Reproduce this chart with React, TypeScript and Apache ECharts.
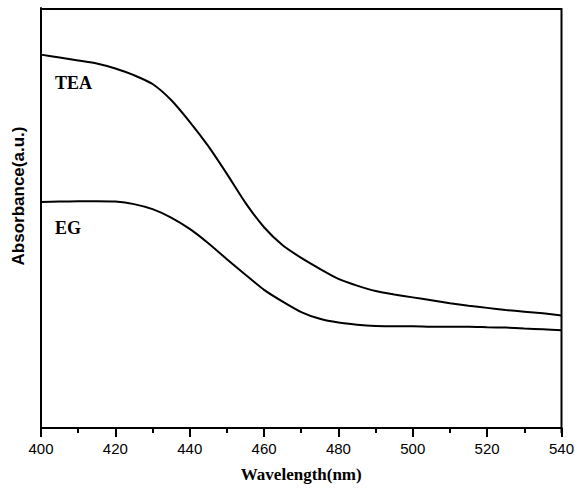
import React, { useEffect, useRef } from "react";
import * as echarts from "echarts";

const wavelengths = [400, 405, 410, 415, 420, 425, 430, 435, 440, 445, 450, 455, 460, 465, 470, 475, 480, 485, 490, 495, 500, 505, 510, 515, 520, 525, 530, 535, 540];
const teaValues = [0.889, 0.882, 0.875, 0.868, 0.856, 0.840, 0.819, 0.781, 0.729, 0.671, 0.605, 0.536, 0.478, 0.435, 0.405, 0.379, 0.355, 0.339, 0.326, 0.318, 0.311, 0.304, 0.297, 0.291, 0.286, 0.281, 0.277, 0.273, 0.268];
const egValues = [0.538, 0.539, 0.540, 0.540, 0.539, 0.533, 0.521, 0.501, 0.474, 0.440, 0.402, 0.365, 0.329, 0.301, 0.276, 0.260, 0.251, 0.246, 0.243, 0.242, 0.242, 0.241, 0.241, 0.241, 0.240, 0.239, 0.237, 0.235, 0.233];
const seriesNames = ["TEA", "EG"];

export default function App() {
  const ref = useRef<HTMLDivElement>(null);
  useEffect(() => {
    if (!ref.current) return;
    const chart = echarts.init(ref.current, undefined, { renderer: "svg" });
    const toPairs = (vals: number[]) => wavelengths.map((w, i) => [w, vals[i]]);
    chart.setOption({
      animation: false,
      backgroundColor: "#ffffff",
      grid: { left: 41, right: 15, top: 8, bottom: 55, containLabel: false },
      xAxis: {
        type: "value",
        min: 400,
        max: 540,
        interval: 20,
        name: "Wavelength(nm)",
        nameLocation: "middle",
        nameGap: 38,
        nameTextStyle: { fontFamily: "Times New Roman, Liberation Serif, serif", fontWeight: "bold", fontSize: 17, color: "#000" },
        axisLine: { show: true, onZero: false, lineStyle: { color: "#000", width: 2 } },
        axisTick: { show: true, inside: false, length: 9, lineStyle: { color: "#000", width: 2 } },
        minorTick: { show: true, splitNumber: 2, length: 5, lineStyle: { color: "#000", width: 2 } },
        axisLabel: { margin: 13, fontFamily: "Arial, Liberation Sans, sans-serif", fontSize: 15, color: "#000" },
        splitLine: { show: false },
      },
      yAxis: {
        type: "value",
        min: 0,
        max: 1,
        axisLine: { show: true, onZero: false, lineStyle: { color: "#000", width: 2 } },
        axisTick: { show: false },
        axisLabel: { show: false },
        splitLine: { show: false },
      },
      graphic: [
        { type: "line", shape: { x1: 41, y1: 9, x2: 562, y2: 9 }, style: { stroke: "#000", lineWidth: 2 } },
        { type: "line", shape: { x1: 561.5, y1: 8, x2: 561.5, y2: 433 }, style: { stroke: "#000", lineWidth: 2 } },
        {
          type: "text", x: 55, y: 83,
          style: { text: seriesNames[0], fontFamily: "Times New Roman, Liberation Serif, serif", fontWeight: "bold", fontSize: 18, fill: "#000", verticalAlign: "middle" },
        },
        {
          type: "text", x: 55, y: 228,
          style: { text: seriesNames[1], fontFamily: "Times New Roman, Liberation Serif, serif", fontWeight: "bold", fontSize: 18, fill: "#000", verticalAlign: "middle" },
        },
        {
          type: "text",
          x: 18,
          y: 196,
          rotation: Math.PI / 2,
          style: { text: "Absorbance(a.u.)", fontFamily: "Arial, Liberation Sans, sans-serif", fontWeight: "bold", fontSize: 17, fill: "#000", align: "center", verticalAlign: "middle" },
        },
      ],
      series: [
        {
          name: seriesNames[0],
          type: "line",
          data: toPairs(teaValues),
          smooth: 0.25,
          showSymbol: false,
          lineStyle: { color: "#000", width: 2 },
        },
        {
          name: seriesNames[1],
          type: "line",
          data: toPairs(egValues),
          smooth: 0.25,
          showSymbol: false,
          lineStyle: { color: "#000", width: 2 },
        },
      ],
    });
    return () => chart.dispose();
  }, []);
  return <div ref={ref} style={{ width: 577, height: 488, position: "absolute", left: 0, top: 0 }} />;
}
